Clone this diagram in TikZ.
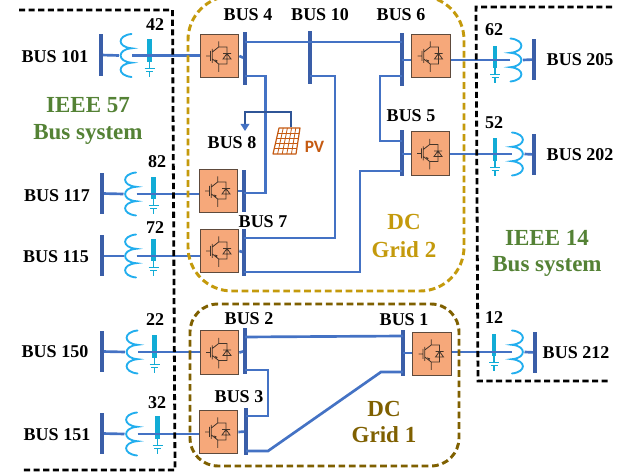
\documentclass[tikz,border=0pt]{standalone}
\usepackage{fontspec}
\setmainfont{Liberation Serif}
\newfontfamily\pvfont{Carlito}
\usetikzlibrary{arrows.meta,calc}
\definecolor{dcline}{HTML}{4472C4}
\definecolor{barblue}{HTML}{3A5EA8}
\definecolor{pvline}{HTML}{2F5597}
\definecolor{convfill}{HTML}{F6A87A}
\definecolor{convedge}{HTML}{5E4A3C}
\definecolor{capblue}{HTML}{12ACD6}
\definecolor{coilblue}{HTML}{22AEEE}
\definecolor{gridtwo}{HTML}{C49A0C}
\definecolor{gridone}{HTML}{7F6000}
\definecolor{ieeegreen}{HTML}{548235}
\definecolor{pvorange}{HTML}{C55A11}
\tikzset{
  x=.75pt,y=-.75pt,
  conv/.style={rectangle,draw=convedge,fill=convfill,line width=.75pt,minimum width=29pt,minimum height=32.5pt,inner sep=0pt},
  busbar/.style={rectangle,fill=barblue,minimum width=2.4pt,inner sep=0pt},
  capbar/.style={rectangle,fill=capblue,minimum width=3.6pt,inner sep=0pt},
  dc/.style={dcline,line width=2pt,line join=miter},
  lab/.style={font=\fontsize{13.5}{15}\selectfont\bfseries,inner sep=0pt,text=black},
  biglab/.style={font=\fontsize{17.25}{19}\selectfont\bfseries,inner sep=0pt},
  sysdash/.style={black,line width=2.1pt,dash pattern=on 4.6pt off 2.6pt},
  griddash/.style={line width=2.2pt,dash pattern=on 5pt off 2.8pt},
  pics/igbt/.style={code={
    \draw[convedge!70!black,line width=.6pt]
      (-13.5,0) -- (-9,0) (-9,-5) -- (-9,5) (-7.2,-7) -- (-7.2,7)
      (-.8,-14.7) -- (-.8,-9) -- (-7.2,-4)
      (-7.2,3) -- (-.8,8) -- (-.8,16)
      (-.8,-9) -- (7.5,-9) -- (7.5,8) -- (-.8,8)
      (3.5,-2.5) -- (11.5,-2.5)
      (7.5,-2.5) -- (3.5,3) -- (11.5,3) -- cycle;
    \fill[convedge!70!black] (-3,6.2) -- (-5,3.4) -- (-1.8,4.6) -- cycle;
  }},
  pics/coil/.style={code={
    \draw[coilblue,line width=1.4pt,line cap=round]
      (5.5,-21.5) .. controls (-9,-20) and (-9,-8.5) .. (5.5,-7.2)
      .. controls (-9,-6) and (-9,6) .. (5.5,7.2)
      .. controls (-9,8.5) and (-9,20) .. (5.5,21.5);
  }},
  pics/capsym/.style={code={
    \draw[capblue,line width=.8pt]
      (0,0) -- (0,6) (0,9) -- (0,15) (-5,6) -- (5,6) (-3.5,9) -- (3.5,9);
  }}
}
\newcommand{\ConvAt}[3]{%
  \node[conv] (#1) at (#2,#3) {};
  \pic at (#1.center) {igbt};
}
\newcommand{\BarAt}[4]{\node[busbar,minimum height=#4*.75pt] (#1) at (#2,#3) {};}
\newcommand{\CapAt}[4]{%
  \node[capbar,minimum height=#4*.75pt-#3*.75pt] (cap#1) at (#2,{(#3+#4)/2}) {};
  \pic at (cap#1.south) {capsym};
}
\begin{document}
\begin{tikzpicture}
\useasboundingbox (0,0) rectangle (632,473);
\fill[white] (0,0) rectangle (632,473);

% converters
\ConvAt{c4}{219.5}{56}
\ConvAt{c8}{218.5}{191}
\ConvAt{c7}{219.5}{251}
\ConvAt{c6}{431}{56}
\ConvAt{c5}{430.5}{153.5}
\ConvAt{c2}{219.5}{352.5}
\ConvAt{c3}{218.5}{432}
\ConvAt{c1}{432}{354}

% DC bus bars
\BarAt{b4}{245}{58.5}{53}
\BarAt{b10}{310}{57.5}{53}
\BarAt{b6}{402}{59.5}{53}
\BarAt{b5}{402}{153}{46}
\BarAt{b8}{244}{191}{42}
\BarAt{b7}{244}{252.5}{47}
\BarAt{b2}{245}{351}{46}
\BarAt{b3}{246}{431.5}{47}
\BarAt{b1}{403}{353}{46}

% AC bus bars
\BarAt{a101}{101}{55}{42}
\BarAt{a117}{102}{193.5}{41}
\BarAt{a115}{102}{256}{41}
\BarAt{a150}{102}{351.5}{41}
\BarAt{a151}{102}{433.5}{41}
\BarAt{a205}{534}{59.5}{41}
\BarAt{a202}{534}{154.5}{41}
\BarAt{a212}{535}{352.5}{41}

% coils
\coordinate (t101) at (126,55.5);
\coordinate (t117) at (130.5,194);
\coordinate (t115) at (130.5,256);
\coordinate (t150) at (132,352);
\coordinate (t151) at (131.5,434);
\coordinate (t205) at (516,60);
\coordinate (t202) at (517.5,154);
\coordinate (t212) at (517.5,352);
\foreach \n in {101,117,115,150,151} {\pic at (t\n) {coil};}
\foreach \n in {205,202,212} {\pic[xscale=-1] at (t\n) {coil};}

% capacitor stacks
\CapAt{101}{149.5}{39}{62}
\CapAt{117}{153.5}{177}{199}
\CapAt{115}{153.5}{239}{261}
\CapAt{150}{154.5}{335}{358}
\CapAt{151}{157.5}{416}{439}
\CapAt{205}{495}{46}{68}
\CapAt{202}{495}{138}{161}
\CapAt{212}{494}{334}{356}

% AC connectors
\foreach \n/\c in {101/c4,117/c8,115/c7,150/c2,151/c3} {
  \draw[dc] (a\n) -- ($(t\n)+(-7,0)$);
  \draw[dc] ($(t\n)+(6,0)$) -- (\c.west |- t\n);
}
\foreach \n/\c in {205/c6,202/c5,212/c1} {
  \draw[dc] (a\n) -- ($(t\n)+(7,0)$);
  \draw[dc] ($(t\n)+(-6,0)$) -- (\c.east |- t\n);
}

% converter to DC bus
\draw[dc] (c4.east) -- (b4);
\draw[dc] (c8.east) -- (b8);
\draw[dc] (c7.east) -- (b7);
\draw[dc] (b6 |- 0,60) -- (c6.west |- 0,60);
\draw[dc] (b5 |- 0,154) -- (c5.west |- 0,154);
\draw[dc] (c2.east) -- (b2);
\draw[dc] (c3.east) -- (b3);
\draw[dc] (b1 |- 0,353) -- (c1.west |- 0,353);

% DC network
\draw[dc] (b4 |- 0,42) -- (b6 |- 0,42);
\draw[dc] (b4 |- 0,76) -| (265.5,193) -- (b8 |- 0,193);
\draw[dc] (b10 |- 0,76) -| (335,238) -- (b7 |- 0,238);
\draw[dc] (b6 |- 0,76) -| (380,141) -- (b5 |- 0,141);
\draw[dc] (b5 |- 0,171) -| (360,272) -- (b7 |- 0,272);
\draw[dc] (b2 |- 0,337) -- (b1 |- 0,336);
\draw[dc] (b2 |- 0,370) -| (268,416) -- (b3 |- 0,416);
\draw[dc] (b3 |- 0,451) -- (268,451) -- (381,372) -- (b1 |- 0,372);

% PV
\coordinate (pvtl) at (279,128);
\coordinate (pvtr) at (300,128);
\coordinate (pvbr) at (296,154);
\coordinate (pvbl) at (273,154);
\coordinate (pvtop) at (291,127);
\coordinate (pvdrop) at (245,131);
\draw[pvline,line width=2pt] (pvtop) |- (245,112) -- (pvdrop |- 0,124);
\fill[dcline] (240.5,124) -- (249.5,124) -- (pvdrop) -- cycle;
\draw[pvorange,line width=.9pt,line join=round] (pvtl) -- (pvtr) -- (pvbr) -- (pvbl) -- cycle;
\foreach \k in {.2,.4,.6,.8} {
  \draw[pvorange,line width=.6pt] ($(pvtl)!\k!(pvtr)$) -- ($(pvbl)!\k!(pvbr)$);
  \draw[pvorange,line width=.6pt] ($(pvtl)!\k!(pvbl)$) -- ($(pvtr)!\k!(pvbr)$);
}
\node[inner sep=0pt,text=pvorange,font=\fontsize{13}{15}\selectfont\bfseries\pvfont] (pvlab) at (314.5,147) {PV};

% dashed regions
\draw[griddash,gridtwo,rounded corners=33pt] (300,-4) -- (464,-4) -- (464,291) -- (188,291) -- (188,-4) -- cycle;
\draw[griddash,gridone,rounded corners=21pt] (190,385) -- (190,304) -- (459,304) -- (459,466) -- (190,466) -- cycle;
\draw[sysdash] (19,10) -- (172.5,10) -- (175,470) -- (23,470);
\draw[sysdash] (612,7) -- (476,7) -- (478,381) -- (610,381);

% labels
\foreach \t/\x/\y/\n in {
  BUS 101/55/57/l101,BUS 117/57/196/l117,BUS 115/56/257/l115,BUS 150/55/352/l150,BUS 151/57/435/l151,
  BUS 205/580/60/l205,BUS 202/580/155/l202,BUS 212/576/353/l212,
  BUS 4/248/15/lb4,BUS 10/320/15/lb10,BUS 6/401/15/lb6,BUS 5/411/116/lb5,BUS 8/232/143/lb8,BUS 7/263/222/lb7,
  BUS 2/249/319/lb2,BUS 3/239/397/lb3,BUS 1/404/320/lb1,
  42/155/25/n42,82/157/162/n82,72/155/228/n72,22/155/320/n22,32/157/403/n32,62/494/30/n62,52/494/123/n52,12/494/318/n12}
  {\node[lab] (\n) at (\x,\y) {\t};}
\node[biglab,text=ieeegreen] (s57a) at (88,105) {IEEE 57};
\node[biglab,text=ieeegreen] (s57b) at (88,134) {Bus system};
\node[biglab,text=ieeegreen] (s14a) at (547,238) {IEEE 14};
\node[biglab,text=ieeegreen] (s14b) at (547,266) {Bus system};
\node[biglab,text=gridtwo] (g2a) at (404,222) {DC};
\node[biglab,text=gridtwo] (g2b) at (404,250) {Grid 2};
\node[biglab,text=gridone] (g1a) at (384,409) {DC};
\node[biglab,text=gridone] (g1b) at (384,435) {Grid 1};
\end{tikzpicture}
\end{document}
